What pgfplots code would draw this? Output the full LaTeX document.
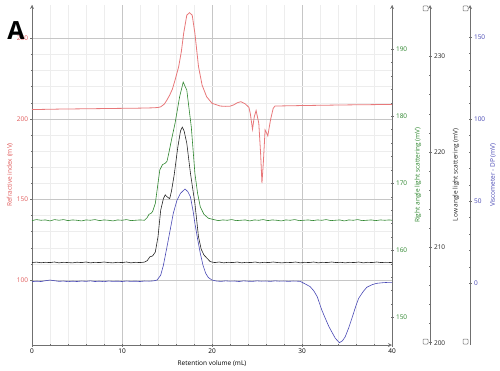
\documentclass[border=0pt]{standalone}
\usepackage{pgfplots}
\pgfplotsset{compat=1.18}
\usepackage{fontspec}
\setmainfont{Open Sans}
\setsansfont{Open Sans}
\definecolor{rired}{HTML}{E8787A}
\definecolor{rilab}{HTML}{E05A5A}
\definecolor{ralsg}{HTML}{2E862E}
\definecolor{lalsk}{HTML}{262626}
\definecolor{visb}{HTML}{4848B4}
\definecolor{axg}{HTML}{707070}
\newcommand{\lblfont}{\fontsize{6.5}{7}\selectfont}
\pgfplotsset{
  base/.style={
    scale only axis, width=360pt, height=340pt,
    xmin=0, xmax=40, anchor=south west,
    tick align=outside,
    major tick length=3pt, minor tick length=2pt,
    /pgf/number format/assume math mode=true,
    ticklabel style={font=\lblfont},
    label style={font=\lblfont},
    axis line style={-, axg, line width=0.8pt},
    every outer x axis line/.append style={-},
    every outer y axis line/.append style={-},
    every tick/.style={axg, line width=0.5pt},
  },
  scaleax/.style={base, axis x line=none, axis y line=right,
    yticklabel style={xshift=-1pt}},
}
\pgfplotstableread{
x y
0 205.8
3 206.1
6 206.3
9 206.5
12 206.7
13.5 206.9
14.0 207.1
14.3 207.5
14.7 209.2
15.0 211.8
15.3 214.8
15.6 218.5
15.9 224.2
16.3 232.5
16.6 242
16.85 253.1
17.2 264.4
17.5 265.9
17.8 264.4
18.1 253.1
18.5 232.5
18.9 221
19.4 213.8
20.0 209.7
20.9 208.0
21.5 207.8
22.0 207.9
22.4 208.7
22.8 210.0
23.2 210.7
23.7 209.3
24.1 207.2
24.25 203.5
24.5 193.6
24.7 201.4
24.9 205.2
25.2 197.3
25.4 178.7
25.55 160.2
25.7 172.5
25.9 193.2
26.05 191.5
26.2 189.5
26.5 199.4
26.8 206.6
27.0 208.0
30 208.3
35 208.7
40 209.0
}\ritab
\pgfplotstableread{
x y
0 164.45
0.5 164.6
1 164.5
1.5 164.55
2 164.4
2.5 164.6
3 164.5
3.5 164.6
4 164.45
4.5 164.55
5 164.5
5.5 164.4
6 164.55
6.5 164.5
7 164.6
7.5 164.45
8 164.55
8.5 164.5
9 164.4
9.5 164.55
10 164.5
10.5 164.6
11 164.45
11.5 164.5
12 164.55
12.5 164.5
12.8 164.9
13.0 165.4
13.2 165.5
13.4 165.8
13.7 167.0
14.0 170.0
14.2 172.0
14.5 172.8
14.8 173.0
15.0 173.3
15.2 174.5
15.5 176.5
15.9 179.0
16.4 182.9
16.8 185.1
17.2 183.9
17.7 178.4
18.1 171.5
18.4 168.5
18.7 166.5
19.1 165.4
19.6 164.8
20.2 164.6
20.7 164.45
21.2 164.55
21.7 164.5
22.2 164.6
22.7 164.45
23.2 164.5
23.7 164.55
24.2 164.4
24.7 164.55
25.2 164.5
25.7 164.6
26.2 164.45
26.7 164.55
27.2 164.5
27.7 164.4
28.2 164.55
28.7 164.5
29.2 164.6
29.7 164.45
30.2 164.5
30.7 164.55
31.2 164.45
31.7 164.55
32.2 164.5
32.7 164.6
33.2 164.45
33.7 164.5
34.2 164.55
34.7 164.4
35.2 164.55
35.7 164.5
36.2 164.6
36.7 164.45
37.2 164.5
37.7 164.55
38.2 164.45
38.7 164.55
39.2 164.5
39.7 164.55
40 164.5
}\ralstab
\pgfplotstableread{
x y
0 208.4
0.5 208.45
1 208.38
1.5 208.43
2 208.4
2.5 208.46
3 208.37
3.5 208.43
4 208.4
4.5 208.37
5 208.44
5.5 208.4
6 208.46
6.5 208.37
7 208.43
7.5 208.4
8 208.46
8.5 208.4
9 208.37
9.5 208.43
10 208.4
10.5 208.46
11 208.37
11.5 208.43
12 208.4
12.5 208.45
12.8 208.6
13.1 209.0
13.4 209.1
13.7 209.5
14.0 211.1
14.3 213.9
14.6 215.1
14.8 215.5
15.0 215.3
15.3 215.1
15.5 215.9
15.8 217.6
16.2 220.5
16.5 222.2
16.7 222.6
16.9 222.2
17.2 220.9
17.6 217.8
18.1 214.6
18.5 211.1
18.8 209.8
19.1 209.2
19.8 208.5
20.3 208.4
20.8 208.46
21.3 208.37
21.8 208.43
22.3 208.4
22.8 208.46
23.3 208.37
23.8 208.43
24.3 208.4
24.8 208.46
25.3 208.37
25.8 208.43
26.3 208.4
26.8 208.46
27.3 208.4
27.8 208.37
28.3 208.43
28.8 208.4
29.3 208.46
29.8 208.37
30.3 208.43
30.8 208.4
31.3 208.46
31.8 208.37
32.3 208.43
32.8 208.4
33.3 208.46
33.8 208.4
34.3 208.43
34.8 208.37
35.3 208.43
35.8 208.4
36.3 208.46
36.8 208.37
37.3 208.43
37.8 208.4
38.3 208.46
38.8 208.4
39.3 208.43
40 208.4
}\lalstab
\pgfplotstableread{
x y
0 1.0
0.5 1.3
1 1.1
1.5 1.6
2 2.0
2.5 1.6
3 1.2
3.5 1.4
4 1.0
4.5 1.3
5 1.1
5.5 1.4
6 1.2
6.5 1.5
7 1.1
7.5 1.3
8 1.0
8.5 1.4
9 1.2
9.5 1.3
10 1.1
10.5 1.4
11 1.2
11.5 1.3
12 1.1
12.5 1.4
13 1.3
13.5 1.5
13.9 2.0
14.3 5.0
14.6 11.0
15.0 22.3
15.3 31.0
15.7 42.7
16.1 50.5
16.5 54.9
17.0 57.5
17.3 56.0
17.6 52.8
17.9 44.0
18.1 36.6
18.4 27.0
18.7 18.3
19.0 11.0
19.3 6.1
19.6 3.5
20.0 2.0
20.5 1.4
21 1.2
21.5 1.5
22 1.3
22.5 1.4
23 1.1
23.5 1.5
24 1.3
24.5 1.2
25 1.5
25.5 1.3
26 1.4
26.5 1.2
27 1.5
27.5 1.3
28 1.4
28.5 1.2
29 1.4
29.5 1.3
29.8 1.2
30.4 -0.5
30.9 -2.0
31.3 -4.5
31.7 -8.2
32.2 -16.3
32.6 -21.5
33.0 -26.5
33.4 -30.5
33.7 -33.5
34.15 -36.2
34.5 -35.0
34.8 -32.6
35.2 -27.0
35.6 -20.4
36.0 -13.5
36.3 -9.1
36.8 -5.0
37.2 -2.4
37.8 -0.8
38.3 0.0
39.0 0.4
39.6 0.6
40 0.6
}\vistab
\begin{document}
\begin{tikzpicture}
% main RI axis
\begin{axis}[base, at={(0pt,0pt)},
  ymin=59.7, ymax=270.7,
  axis x line=bottom, axis y line=left,
  xtick={0,10,20,30,40}, minor x tick num=4,
  ytick={100,150,200,250}, minor y tick num=4,
  grid=both,
  major grid style={gray!45, line width=0.8pt},
  minor grid style={gray!14, line width=0.5pt},
  yticklabel style={text=rilab, xshift=1pt},
  xticklabel style={yshift=1pt},
  xlabel={Retention volume (mL)},
  xlabel style={font=\lblfont, at={(axis description cs:0.5,-0.056)}, anchor=center},
  ylabel={Refractive index (mV)},
  ylabel style={font=\lblfont, text=rilab, at={(axis description cs:-0.0611,0.5)}, anchor=center},
]
\addplot[rired, line width=0.8pt] table[x=x,y=y] {\ritab};
\end{axis}
% RALS axis (green)
\begin{axis}[base, at={(0pt,0pt)},
  ymin=145.9, ymax=196.6,
  axis x line=none, axis y line=right,
  ytick={150,160,170,180,190}, minor y tick num=4,
  yticklabel style={text=ralsg, xshift=-1pt},
  ylabel={Right angle light scattering (mV)},
  ylabel style={font=\lblfont, text=ralsg, at={(axis description cs:1.0722,0.5)}, anchor=center},
]
\addplot[ralsg, line width=0.6pt] table[x=x,y=y] {\ralstab};
\end{axis}
% LALS data (black)
\begin{axis}[base, at={(0pt,0pt)}, hide axis, ymin=199.76, ymax=235.4]
\addplot[lalsk, line width=0.6pt] table[x=x,y=y] {\lalstab};
\end{axis}
% LALS scale
\begin{axis}[scaleax, at={(38pt,0pt)}, ymin=199.76, ymax=235.4,
  ytick={200,210,220,230}, minor y tick num=4,
  yticklabel style={text=lalsk},
  ylabel={Low angle light scattering (mV)},
  ylabel style={font=\lblfont, text=lalsk, at={(axis description cs:1.0722,0.5)}, anchor=center},
]
\end{axis}
% Viscometer data (blue)
\begin{axis}[base, at={(0pt,0pt)}, hide axis, ymin=-37.6, ymax=169.7]
\addplot[visb, line width=0.6pt] table[x=x,y=y] {\vistab};
\end{axis}
% Viscometer scale
\begin{axis}[scaleax, at={(78pt,0pt)}, ymin=-37.6, ymax=169.7,
  ytick={0,50,100,150}, minor y tick num=4,
  yticklabel style={text=visb},
  ylabel={Viscometer - DP (mV)},
  ylabel style={font=\lblfont, text=visb, at={(axis description cs:1.0639,0.5)}, anchor=center},
]
\end{axis}
% slider handles
\foreach \xx in {391,431} {
  \draw[axg, fill=white, rounded corners=0.8pt, line width=0.5pt] (\xx pt,334pt) rectangle ++(5pt,5pt);
  \draw[axg, fill=white, rounded corners=0.8pt, line width=0.5pt] (\xx pt,1pt) rectangle ++(5pt,5pt);
}
\node[font=\fontsize{25}{25}\selectfont\bfseries] at (-16pt,314pt) {A};
\pgfresetboundingbox
\path[use as bounding box] (-32pt,-25pt) rectangle (468pt,345pt);
\end{tikzpicture}
\end{document}
